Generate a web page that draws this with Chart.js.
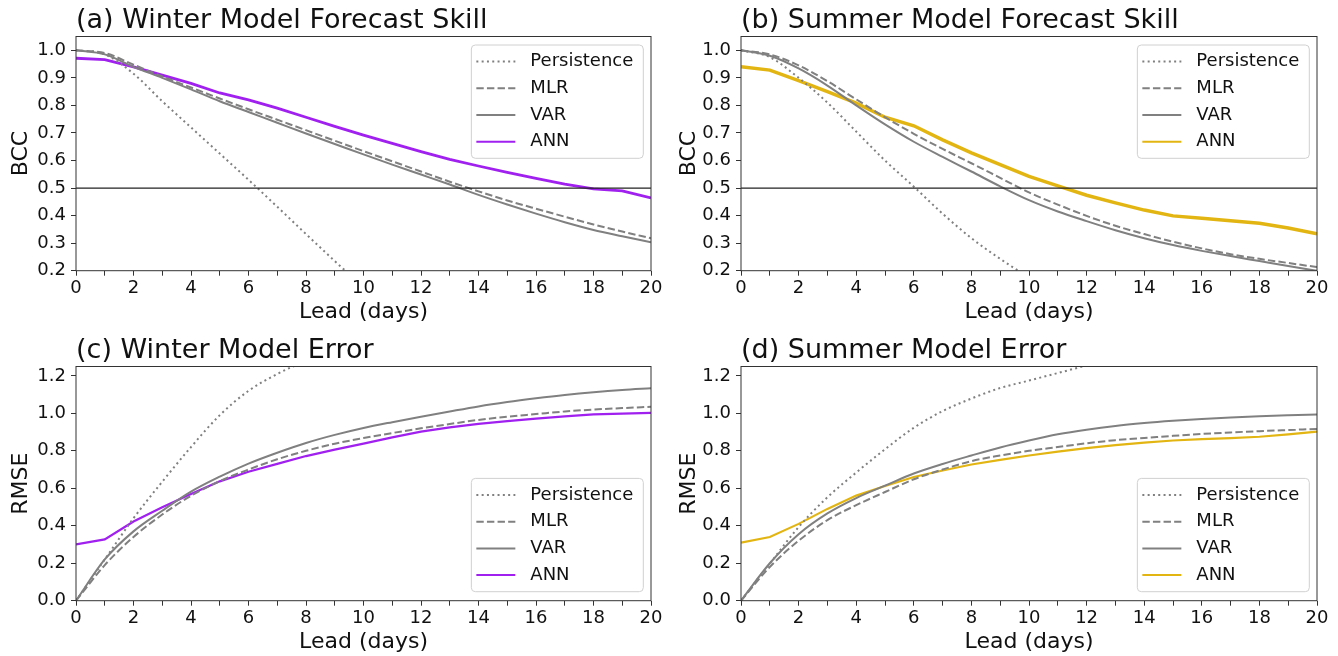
<!DOCTYPE html>
<html>
<head>
<meta charset="utf-8">
<script src="https://cdn.jsdelivr.net/npm/chart.js@4"></script>
<style>
  html, body { margin: 0; padding: 0; background: #fff; overflow: hidden; }
  canvas { position: absolute; }
</style>
</head>
<body>
<canvas id="panelA" width="669" height="328" style="left:0;top:0"></canvas>
<canvas id="panelB" width="669" height="328" style="left:669px;top:0"></canvas>
<canvas id="panelC" width="669" height="328" style="left:0;top:330px"></canvas>
<canvas id="panelD" width="669" height="328" style="left:669px;top:330px"></canvas>
<script>
// lead time in days
const leadDays = [0, 1, 2, 3, 4, 5, 6, 7, 8, 9, 10, 11, 12, 13, 14, 15, 16, 17, 18, 19, 20];
const seriesNames = ['Persistence', 'MLR', 'VAR', 'ANN'];
const skillThreshold = 0.5;

// (a) winter BCC
const winPersBCC = [1.0, 0.985, 0.915, 0.815, 0.72, 0.625, 0.53, 0.432, 0.333, 0.235, 0.14, null, null, null, null, null, null, null, null, null, null];
const winMlrBCC  = [1.0, 0.99, 0.948, 0.905, 0.865, 0.825, 0.786, 0.748, 0.71, 0.672, 0.634, 0.597, 0.56, 0.523, 0.488, 0.455, 0.425, 0.396, 0.368, 0.342, 0.318];
const winVarBCC  = [1.0, 0.985, 0.94, 0.9, 0.858, 0.815, 0.776, 0.737, 0.698, 0.66, 0.622, 0.585, 0.549, 0.513, 0.475, 0.44, 0.407, 0.376, 0.348, 0.325, 0.303];
const winAnnBCC  = [0.971, 0.966, 0.94, 0.91, 0.88, 0.845, 0.82, 0.79, 0.757, 0.724, 0.692, 0.662, 0.632, 0.604, 0.58, 0.557, 0.535, 0.514, 0.497, 0.49, 0.464];

// (b) summer BCC
const sumPersBCC = [1.0, 0.975, 0.9, 0.81, 0.705, 0.6, 0.505, 0.407, 0.318, 0.243, 0.175, null, null, null, null, null, null, null, null, null, null];
const sumMlrBCC  = [1.0, 0.985, 0.945, 0.888, 0.822, 0.757, 0.697, 0.642, 0.59, 0.537, 0.484, 0.44, 0.399, 0.363, 0.333, 0.305, 0.281, 0.26, 0.243, 0.228, 0.213];
const sumVarBCC  = [1.0, 0.98, 0.934, 0.872, 0.8, 0.731, 0.668, 0.613, 0.56, 0.506, 0.456, 0.415, 0.38, 0.347, 0.318, 0.293, 0.272, 0.253, 0.235, 0.217, 0.2];
const sumAnnBCC  = [0.94, 0.928, 0.89, 0.85, 0.808, 0.757, 0.726, 0.675, 0.628, 0.585, 0.542, 0.508, 0.474, 0.446, 0.42, 0.399, 0.39, 0.381, 0.372, 0.355, 0.334];

// (c) winter RMSE
const winPersRMSE = [0, 0.22, 0.44, 0.635, 0.82, 0.99, 1.12, 1.21, 1.28, 1.34, null, null, null, null, null, null, null, null, null, null, null];
const winMlrRMSE  = [0, 0.19, 0.34, 0.46, 0.56, 0.638, 0.70, 0.755, 0.80, 0.838, 0.868, 0.895, 0.92, 0.943, 0.965, 0.982, 0.996, 1.01, 1.02, 1.028, 1.035];
const winVarRMSE  = [0, 0.22, 0.37, 0.48, 0.582, 0.662, 0.732, 0.79, 0.842, 0.885, 0.922, 0.953, 0.982, 1.01, 1.037, 1.06, 1.08, 1.098, 1.113, 1.125, 1.134];
const winAnnRMSE  = [0.301, 0.327, 0.423, 0.499, 0.57, 0.637, 0.688, 0.73, 0.772, 0.806, 0.838, 0.872, 0.902, 0.925, 0.944, 0.958, 0.972, 0.984, 0.994, 0.999, 1.003];

// (d) summer RMSE
const sumPersRMSE = [0, 0.198, 0.393, 0.552, 0.684, 0.808, 0.923, 1.012, 1.079, 1.135, 1.175, 1.215, 1.255, 1.29, null, null, null, null, null, null, null];
const sumMlrRMSE  = [0, 0.18, 0.32, 0.43, 0.51, 0.58, 0.648, 0.70, 0.745, 0.775, 0.80, 0.82, 0.84, 0.857, 0.868, 0.88, 0.89, 0.898, 0.905, 0.911, 0.917];
const sumVarRMSE  = [0, 0.2, 0.355, 0.466, 0.548, 0.614, 0.679, 0.73, 0.775, 0.818, 0.855, 0.888, 0.913, 0.933, 0.948, 0.96, 0.97, 0.978, 0.985, 0.99, 0.994];
const sumAnnRMSE  = [0.31, 0.34, 0.41, 0.49, 0.561, 0.612, 0.66, 0.695, 0.727, 0.752, 0.775, 0.796, 0.814, 0.83, 0.844, 0.855, 0.862, 0.868, 0.875, 0.888, 0.902];

const winterColor = '#a020f0';
const summerColor = '#e3b512';
const greyColor = '#808080';

Chart.defaults.font.family = '"DejaVu Sans", sans-serif';
Chart.defaults.color = '#111';

const toPoints = (vals) => leadDays.map((d, i) => ({ x: d, y: vals[i] }));

// matplotlib-like legend drawn inside the axes
const boxLegend = {
    id: 'boxLegend',
    afterDraw(chart, args, opts) {
        const ctx = chart.ctx, area = chart.chartArea;
        const items = chart.data.datasets.filter(d => d.label);
        ctx.save();
        ctx.font = '18px "DejaVu Sans"';
        const textW = Math.max(...items.map(d => ctx.measureText(d.label).width));
        const w = 59 + textW + 10;
        const h = 33.2 + (items.length - 1) * 26.7;
        const x = area.right - 7.7 - w;
        const y = opts.position === 'bottom' ? area.bottom - 9 - h : area.top + 8.5;
        ctx.beginPath();
        ctx.roundRect(x, y, w, h, 4);
        ctx.fillStyle = 'rgba(255,255,255,0.8)';
        ctx.fill();
        ctx.strokeStyle = '#d0d0d0';
        ctx.lineWidth = 1;
        ctx.stroke();
        items.forEach((d, i) => {
            const cy = y + 16.6 + i * 26.7;
            ctx.beginPath();
            ctx.setLineDash(d.borderDash || []);
            ctx.strokeStyle = d.borderColor;
            ctx.lineWidth = 2;
            ctx.moveTo(x + 5, cy);
            ctx.lineTo(x + 44, cy);
            ctx.stroke();
            ctx.setLineDash([]);
            ctx.fillStyle = '#111';
            ctx.textBaseline = 'middle';
            ctx.fillText(d.label, x + 59, cy);
        });
        ctx.restore();
    }
};

// full box around the axes
const axesFrame = {
    id: 'axesFrame',
    afterDatasetsDraw(chart) {
        const { ctx, chartArea: a } = chart;
        ctx.save();
        ctx.strokeStyle = '#333';
        ctx.lineWidth = 1;
        ctx.strokeRect(a.left, a.top, a.right - a.left, a.bottom - a.top);
        ctx.restore();
    }
};

function makePanel(id, cfg) {
    const datasets = [];
    if (cfg.threshold) {
        datasets.push({
            data: [{ x: leadDays[0], y: skillThreshold }, { x: leadDays[leadDays.length - 1], y: skillThreshold }],
            borderColor: '#222', borderWidth: 1.2, pointRadius: 0
        });
    }
    const smooth = { cubicInterpolationMode: 'monotone', pointRadius: 0 };
    datasets.push(
        { label: seriesNames[0], data: toPoints(cfg.pers), borderColor: greyColor, borderWidth: 2, borderDash: [2, 3.3], ...smooth },
        { label: seriesNames[1], data: toPoints(cfg.mlr), borderColor: greyColor, borderWidth: 2, borderDash: [7.4, 3.2], ...smooth },
        { label: seriesNames[2], data: toPoints(cfg.varm), borderColor: greyColor, borderWidth: 2, ...smooth },
        { label: seriesNames[3], data: toPoints(cfg.ann), borderColor: cfg.annColor, borderWidth: cfg.annWidth, pointRadius: 0 }
    );

    new Chart(document.getElementById(id), {
        type: 'line',
        data: { datasets: datasets },
        options: {
            responsive: false,
            animation: false,
            layout: { padding: { left: 0, right: cfg.padRight, top: 0, bottom: 0 } },
            elements: { line: { tension: 0, fill: false } },
            scales: {
                x: {
                    type: 'linear', min: 0, max: 20,
                    border: { display: false },
                    grid: { drawOnChartArea: false, drawTicks: true, tickLength: 5, tickColor: '#333' },
                    ticks: {
                        stepSize: 1, autoSkip: false, maxRotation: 0, padding: 2,
                        font: { size: 18 },
                        callback: v => (v % 2 === 0 ? v : '')
                    },
                    title: { display: true, text: 'Lead (days)', font: { size: 22 }, padding: { top: 0, bottom: 3 } },
                    afterFit: s => { s.height = 57.3; }
                },
                y: {
                    min: cfg.yMin, max: cfg.yMax,
                    border: { display: false },
                    grid: { drawOnChartArea: false, drawTicks: true, tickLength: 5, tickColor: '#333' },
                    ticks: { stepSize: cfg.yStep, includeBounds: false, padding: 5, font: { size: 18 }, callback: v => v.toFixed(1) },
                    title: { display: true, text: cfg.yLabel, font: { size: 22 }, padding: { top: cfg.yTitlePad, bottom: 0 } },
                    afterFit: s => { s.width = cfg.yWidth; }
                }
            },
            plugins: {
                legend: { display: false },
                tooltip: { enabled: false },
                title: {
                    display: true, text: cfg.title, align: 'start', fullSize: false,
                    color: '#111', font: { size: 27, weight: 'normal', lineHeight: 1.0 },
                    padding: { top: 7, bottom: 2.5 }
                },
                boxLegend: { position: cfg.legendPos }
            }
        },
        plugins: [axesFrame, boxLegend]
    });
}

makePanel('panelA', {
    title: '(a) Winter Model Forecast Skill', yLabel: 'BCC', yMin: 0.2, yMax: 1.05, yStep: 0.1,
    pers: winPersBCC, mlr: winMlrBCC, varm: winVarBCC, ann: winAnnBCC,
    annColor: winterColor, annWidth: 2.8, threshold: true, legendPos: 'top',
    padRight: 18, yWidth: 76, yTitlePad: 8
});
makePanel('panelB', {
    title: '(b) Summer Model Forecast Skill', yLabel: 'BCC', yMin: 0.2, yMax: 1.05, yStep: 0.1,
    pers: sumPersBCC, mlr: sumMlrBCC, varm: sumVarBCC, ann: sumAnnBCC,
    annColor: summerColor, annWidth: 3.5, threshold: true, legendPos: 'top',
    padRight: 21, yWidth: 72, yTitlePad: 7
});
makePanel('panelC', {
    title: '(c) Winter Model Error', yLabel: 'RMSE', yMin: 0, yMax: 1.25, yStep: 0.2,
    pers: winPersRMSE, mlr: winMlrRMSE, varm: winVarRMSE, ann: winAnnRMSE,
    annColor: winterColor, annWidth: 2.2, threshold: false, legendPos: 'bottom',
    padRight: 18, yWidth: 76, yTitlePad: 8
});
makePanel('panelD', {
    title: '(d) Summer Model Error', yLabel: 'RMSE', yMin: 0, yMax: 1.25, yStep: 0.2,
    pers: sumPersRMSE, mlr: sumMlrRMSE, varm: sumVarRMSE, ann: sumAnnRMSE,
    annColor: summerColor, annWidth: 2.2, threshold: false, legendPos: 'bottom',
    padRight: 21, yWidth: 72, yTitlePad: 7
});
</script>
</body>
</html>
